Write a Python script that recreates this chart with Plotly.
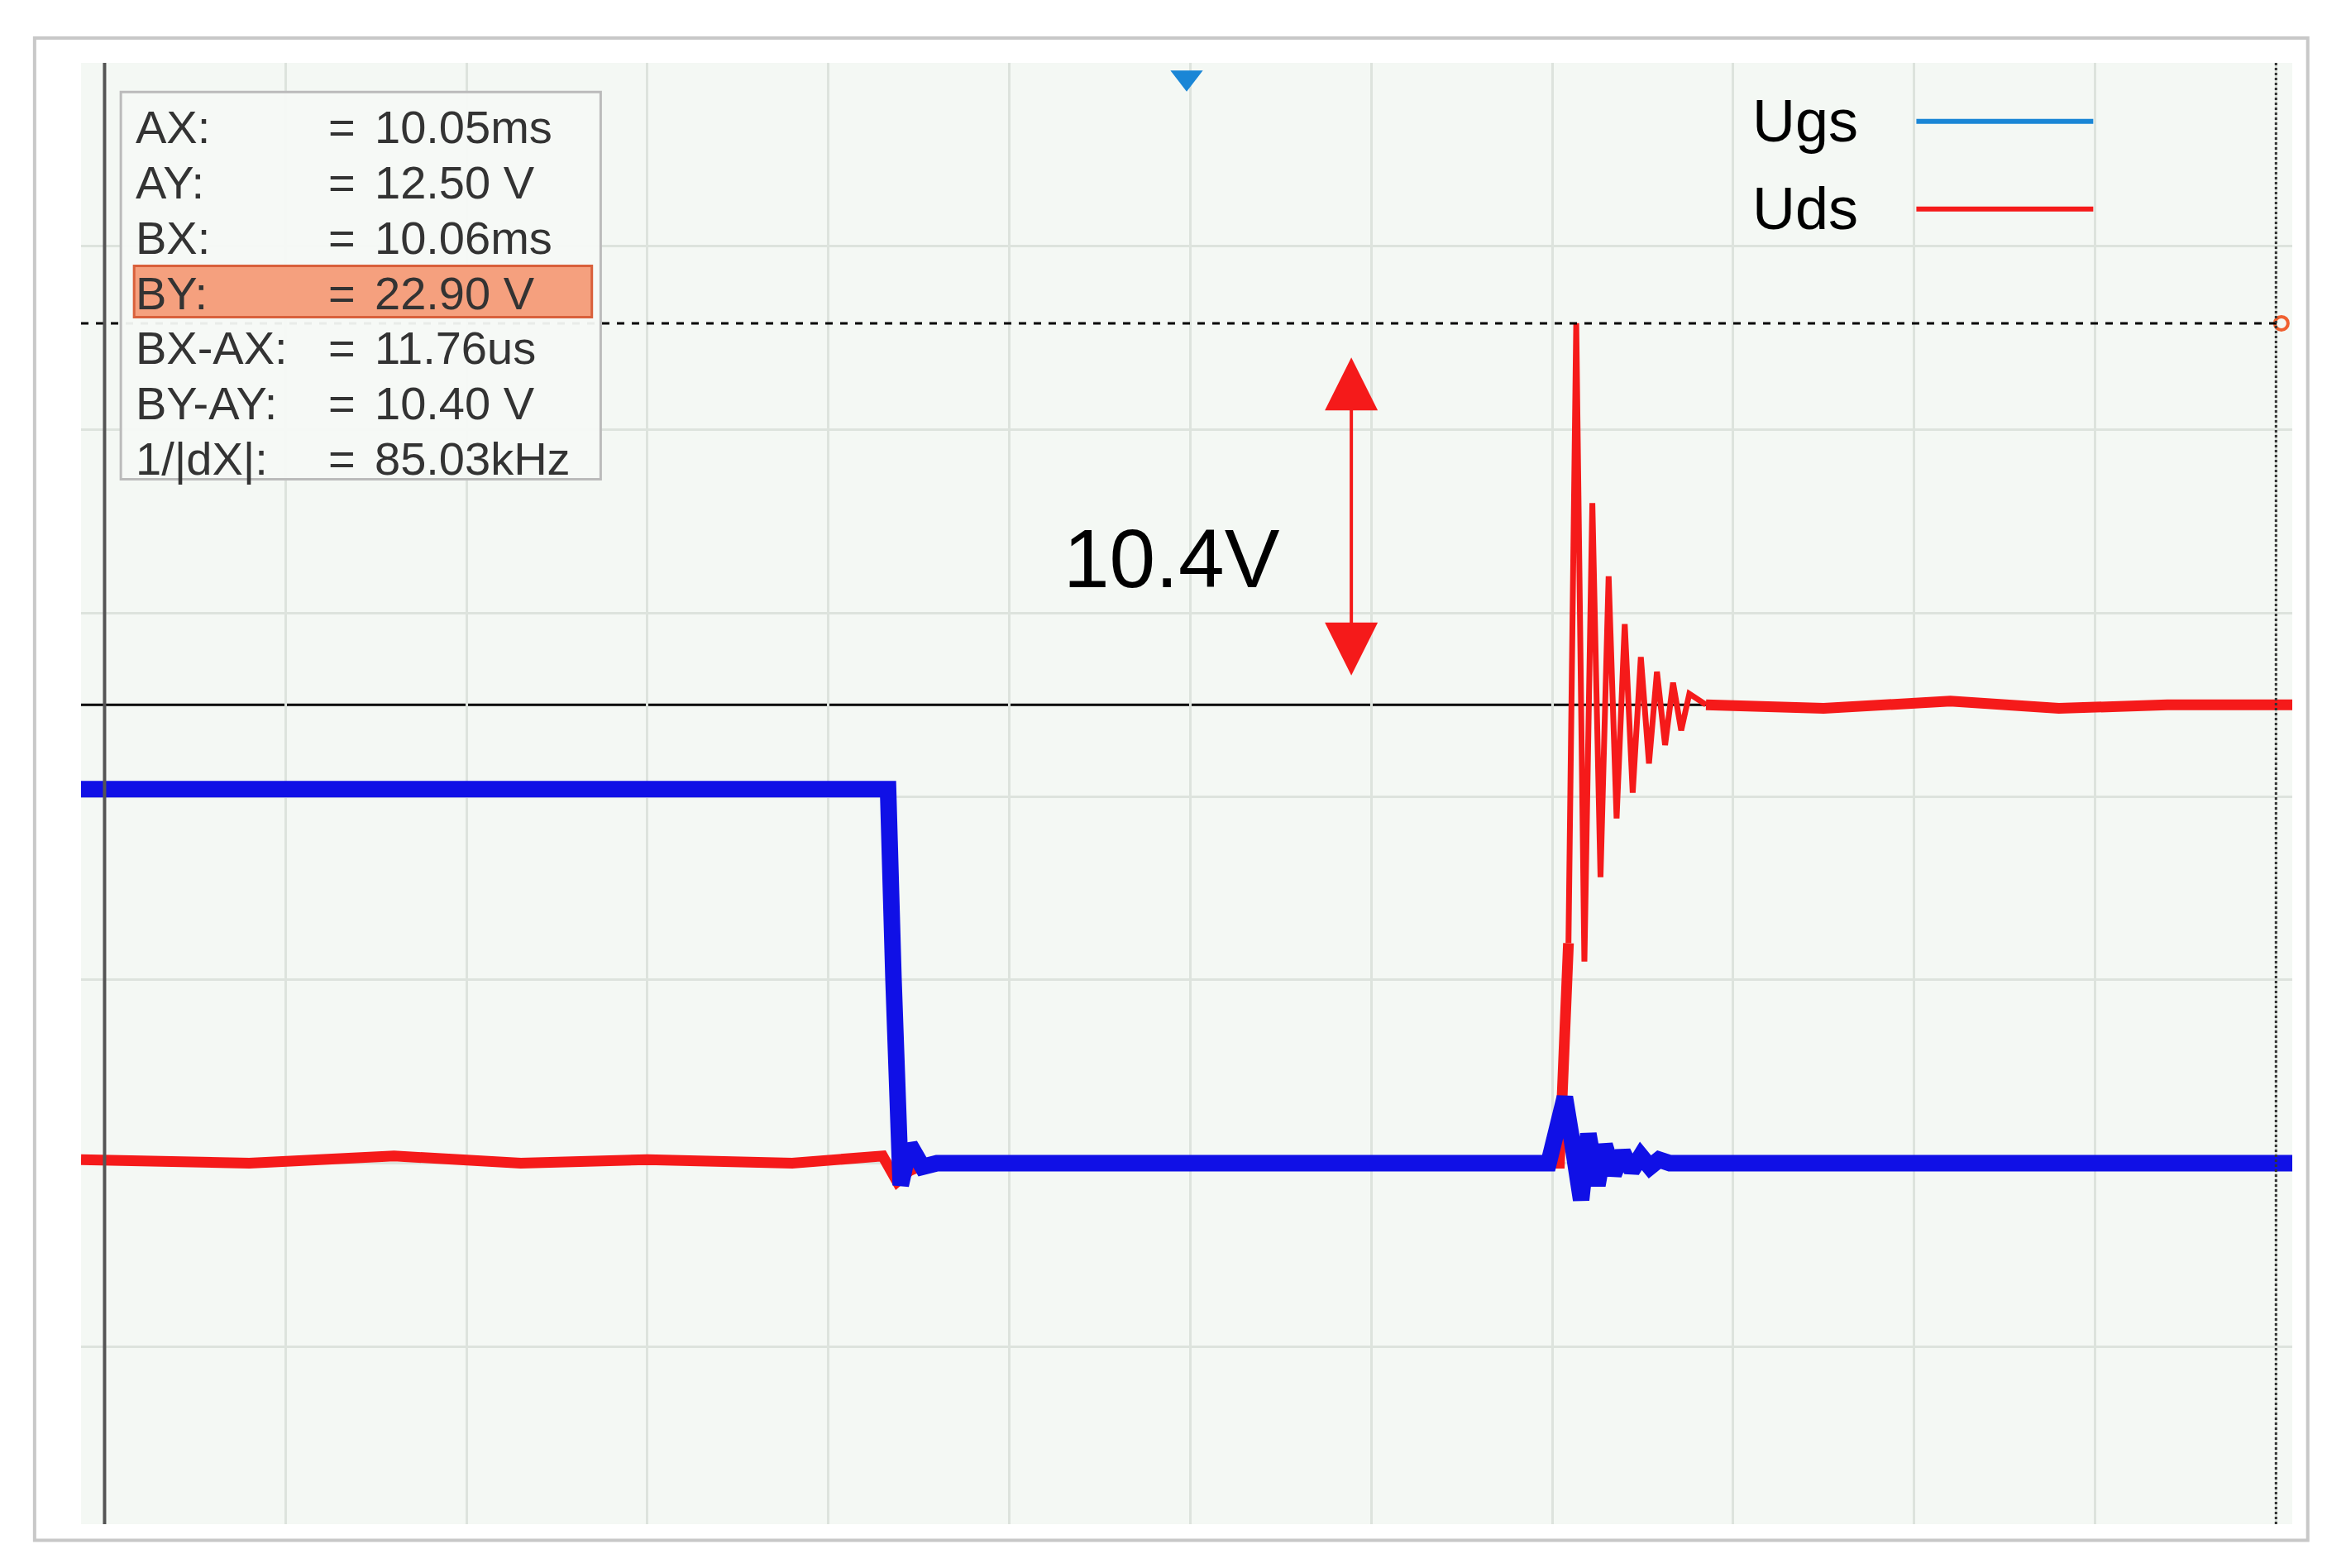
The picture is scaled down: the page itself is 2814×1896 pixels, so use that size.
import plotly.graph_objects as go

# time in divisions, voltage in V (5 V/div)
ugs_t = [-0.13, 4.33, 4.36, 4.40, 4.45, 4.52, 4.60, 7.98, 8.03, 8.07, 8.11, 8.16, 8.20, 8.25,
         8.29, 8.34, 8.39, 8.44, 8.49, 8.54, 8.59, 8.65, 12.1]
ugs_v = [10.2, 10.2, 5.0, -0.6, 0.5, -0.1, 0.0, 0.0, 1.0, 1.8, 0.6, -1.0, 0.8, -0.6,
         0.5, -0.3, 0.3, -0.2, 0.2, -0.1, 0.1, 0.0, 0.0]

uds_t = [-0.13, 0.8, 1.6, 2.3, 3.0, 3.8, 4.3, 4.38, 4.45, 4.55, 6.0, 7.9, 8.04, 8.09]
uds_v = [0.1, 0.0, 0.2, 0.0, 0.1, 0.0, 0.2, -0.5, -0.2, 0.0, 0.0, 0.0, 0.0, 6.0]

ring_t = [8.09, 8.133, 8.178, 8.222, 8.267, 8.312, 8.356, 8.401, 8.445, 8.49, 8.535,
          8.579, 8.624, 8.668, 8.713, 8.758, 8.85]
ring_v = [6.0, 22.9, 5.5, 18.0, 7.8, 16.0, 9.4, 14.7, 10.1, 13.8, 10.9,
          13.4, 11.4, 13.1, 11.8, 12.8, 12.5]

high_t = [8.85, 9.5, 10.2, 10.8, 11.4, 12.1]
high_v = [12.5, 12.4, 12.6, 12.4, 12.5, 12.5]

AY, BY = 12.5, 22.9
cursor_rows = [("AX:", "10.05ms"), ("AY:", "12.50 V"), ("BX:", "10.06ms"), ("BY:", "22.90 V"),
               ("BX-AX:", "11.76us"), ("BY-AY:", "10.40 V"), ("1/|dX|:", "85.03kHz")]

BLUE, RED = "#1010e6", "#f51a1a"
fig = go.Figure()
fig.add_trace(go.Scatter(x=uds_t, y=uds_v, mode="lines", line=dict(color=RED, width=13)))
fig.add_trace(go.Scatter(x=ring_t, y=ring_v, mode="lines", line=dict(color=RED, width=7)))
fig.add_trace(go.Scatter(x=high_t, y=high_v, mode="lines", line=dict(color=RED, width=13)))
fig.add_trace(go.Scatter(x=ugs_t, y=ugs_v, mode="lines", line=dict(color=BLUE, width=20)))

# cursor lines
fig.add_shape(type="line", xref="paper", x0=0, x1=1, y0=AY, y1=AY, line=dict(color="black", width=3), layer="below")
fig.add_shape(type="line", xref="paper", x0=0, x1=0.995, y0=BY, y1=BY, line=dict(color="black", width=3, dash="dash"))
fig.add_shape(type="line", yref="paper", x0=12.0, x1=12.0, y0=0, y1=1, line=dict(color="#333", width=3, dash="dot"))
fig.add_shape(type="line", yref="paper", x0=0, x1=0, y0=0, y1=1, line=dict(color="#555", width=4))

# measurement arrow
fig.add_annotation(x=6.89, y=13.3, ax=6.89, ay=22.0, xref="x", yref="y", axref="x", ayref="y",
                   showarrow=True, arrowhead=2, arrowside="end+start", arrowsize=3.2, arrowwidth=4,
                   arrowcolor=RED, text="")
fig.add_annotation(x=5.9, y=16.5, text="10.4V", showarrow=False,
                   font=dict(size=100, color="black", family="Liberation Sans"))

# legend
for i, (name, col) in enumerate([("Ugs", "#1a86d6"), ("Uds", RED)]):
    yy = 0.96 - i * 0.06
    fig.add_annotation(xref="paper", yref="paper", x=0.755, y=yy + 0.024, text=name, showarrow=False,
                       xanchor="left", font=dict(size=72, color="black", family="Liberation Sans Narrow, Liberation Sans"))
    fig.add_shape(type="line", xref="paper", yref="paper", x0=0.83, x1=0.91, y0=yy, y1=yy,
                  line=dict(color=col, width=6))

# cursor readout box
fig.add_shape(type="rect", xref="paper", yref="paper", x0=0.018, x1=0.235, y0=0.715, y1=0.98,
              fillcolor="rgba(245,249,245,0.95)", line=dict(color="#bbbbbb", width=3))
fig.add_shape(type="rect", xref="paper", yref="paper", x0=0.024, x1=0.231, y0=0.826, y1=0.861,
              fillcolor="#f5a07e", line=dict(color="#d9603b", width=3))
for i, (lab, val) in enumerate(cursor_rows):
    yy = 0.975 - i * 0.0378
    f = dict(size=56, color="#333", family="Liberation Sans Narrow, Liberation Sans")
    fig.add_annotation(xref="paper", yref="paper", x=0.024, y=yy, text=lab, showarrow=False, xanchor="left", font=f)
    fig.add_annotation(xref="paper", yref="paper", x=0.111, y=yy, text="=", showarrow=False, font=f)
    fig.add_annotation(xref="paper", yref="paper", x=0.132, y=yy, text=val, showarrow=False, xanchor="left", font=f)

# markers
fig.add_trace(go.Scatter(x=[5.98], y=[29.6], mode="markers", marker=dict(symbol="triangle-down", size=34, color="#1a86d6")))
fig.add_trace(go.Scatter(x=[12.03], y=[22.9], mode="markers", marker=dict(symbol="circle-open", size=16, color="#f06030", line=dict(width=4))))

# outer frame
fig.add_shape(type="rect", xref="paper", yref="paper", x0=-0.021, x1=1.007, y0=-0.011, y1=1.017,
              line=dict(color="#c8c8c8", width=4))

fig.update_layout(
    width=2814, height=1896, margin=dict(l=90, r=50, t=68, b=61),
    paper_bgcolor="white", plot_bgcolor="#f4f8f4", showlegend=False,
    xaxis=dict(range=[-0.13, 12.09], tick0=0, dtick=1, showgrid=True, gridcolor="#dde3dd",
               gridwidth=3, zeroline=False, showticklabels=False, ticks=""),
    yaxis=dict(range=[-9.84, 30.0], tick0=0, dtick=5, showgrid=True, gridcolor="#dde3dd",
               gridwidth=3, zeroline=False, showticklabels=False, ticks=""),
)
fig.write_html("out.html")
